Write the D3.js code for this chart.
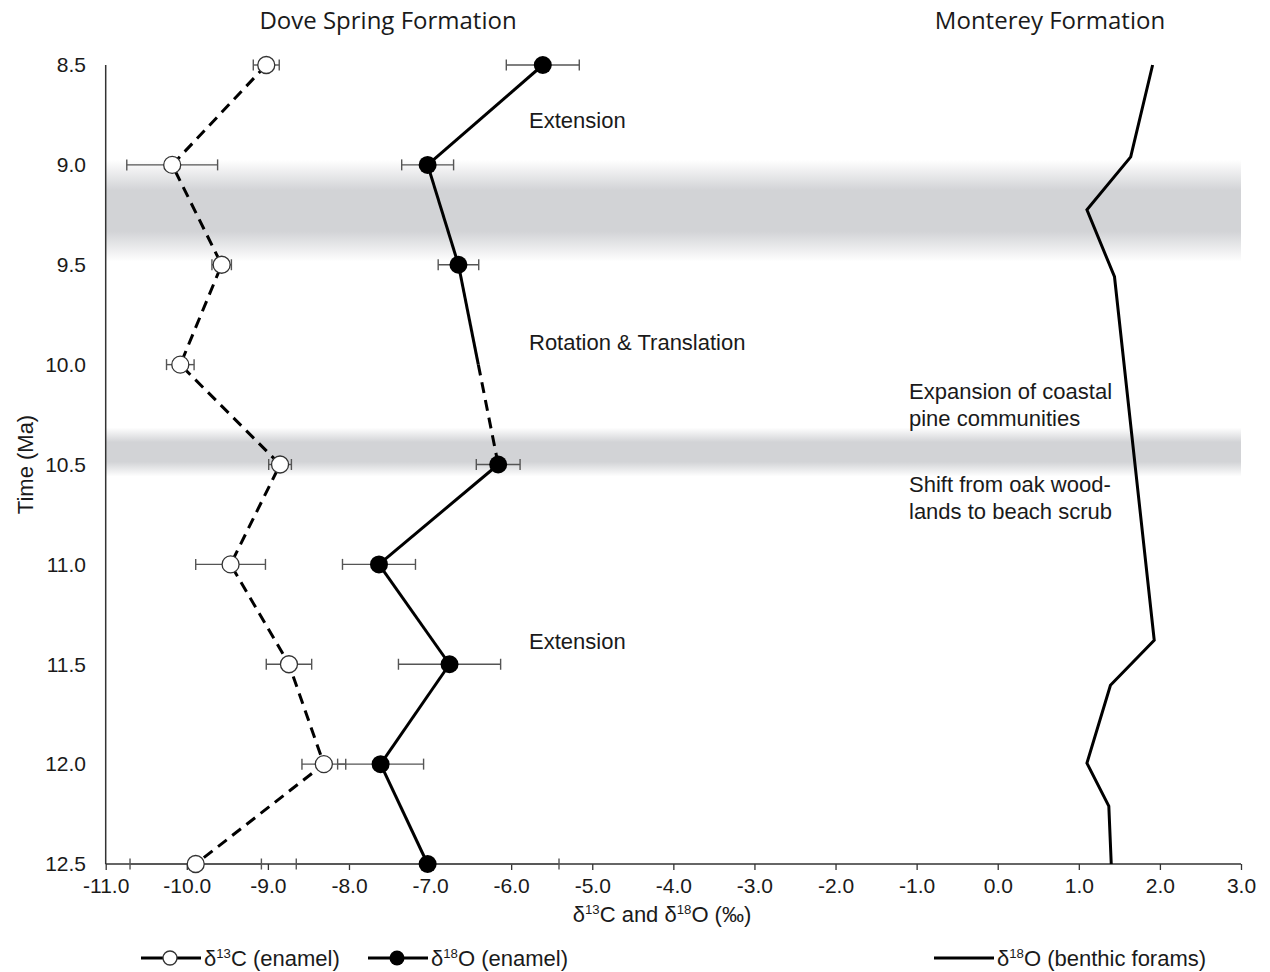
<!DOCTYPE html>
<html>
<head>
<meta charset="utf-8">
<script src="https://cdn.jsdelivr.net/npm/d3@7"></script>
<style>
  body { margin: 0; background: #ffffff; }
  svg { display: block; }
  text { font-family: "Liberation Sans", Arial, sans-serif; fill: #1a1a1a; }
  .title { font-family: "Open Sans", "Noto Sans", sans-serif; }
</style>
</head>
<body>
<svg id="chart" width="1270" height="972"></svg>
<script>
// Sample ages (Ma) for the Dove Spring enamel record
const ages = [8.5, 9.0, 9.5, 10.0, 10.5, 11.0, 11.5, 12.0, 12.5];
// δ13C of enamel (‰) and its error
const d13C = [-9.02, -10.18, -9.57, -10.08, -8.85, -9.46, -8.74, -8.31, -9.89];
const d13CErr = [0.16, 0.56, 0.12, 0.17, 0.14, 0.43, 0.28, 0.27, 0.81];
// δ18O of enamel (‰) and its error; no sample at 10.0 Ma
const d18O = [-5.61, -7.03, -6.65, null, -6.16, -7.63, -6.76, -7.61, -7.03];
const d18OErr = [0.45, 0.32, 0.25, null, 0.27, 0.45, 0.63, 0.53, 1.62];
// Monterey Formation benthic foraminifera δ18O
const benthicAges = [8.5, 8.96, 9.225, 9.56, 11.38, 11.605, 11.995, 12.21, 12.5];
const benthicD18O = [1.91, 1.64, 1.10, 1.44, 1.93, 1.39, 1.10, 1.37, 1.40];
// Axis ticks
const xTicks = [-11, -10, -9, -8, -7, -6, -5, -4, -3, -2, -1, 0, 1, 2, 3];
const yTicks = [8.5, 9.0, 9.5, 10.0, 10.5, 11.0, 11.5, 12.0, 12.5];
// Shaded intervals (Ma)
const bandStarts = [8.975, 10.315];
const bandEnds = [9.485, 10.56];
// Annotations
const tectonicLabels = ["Extension", "Rotation & Translation", "Extension"];
const tectonicAges = [8.775, 9.89, 11.385];
const vegetationLabels = [["Expansion of coastal", "pine communities"],
                          ["Shift from oak wood-", "lands to beach scrub"]];
const vegetationAges = [10.135, 10.6];

const svg = d3.select("#chart");
const x = d3.scaleLinear().domain([-11, 3]).range([105.7, 1241]);
const y = d3.scaleLinear().domain([8.5, 12.5]).range([65, 864]);
const fmt = (d) => (Math.abs(d) < 1e-9 ? 0 : d).toFixed(1);

// Soft grey bands
const defs = svg.append("defs");
const grad = defs.append("linearGradient").attr("id", "bandGrad")
  .attr("x1", 0).attr("x2", 0).attr("y1", 0).attr("y2", 1);
[[0, 0], [0.3, 1], [0.7, 1], [1, 0]].forEach(([o, a]) =>
  grad.append("stop").attr("offset", o).attr("stop-color", "#d2d3d6").attr("stop-opacity", a));

svg.append("g").selectAll("rect").data(bandStarts).join("rect")
  .attr("x", x(-11))
  .attr("width", x(3) - x(-11))
  .attr("y", (d) => y(d))
  .attr("height", (d, i) => y(bandEnds[i]) - y(d))
  .attr("fill", "url(#bandGrad)");

// Axes
const axisColor = "#333";
svg.append("line").attr("x1", x(-11)).attr("x2", x(-11)).attr("y1", y(8.5)).attr("y2", y(12.5))
  .attr("stroke", axisColor).attr("stroke-width", 1.5);
const xAxis = svg.append("g").attr("transform", `translate(0,${y(12.5)})`)
  .call(d3.axisBottom(x).tickValues(xTicks).tickFormat(fmt).tickSize(6).tickPadding(8));
xAxis.select(".domain").attr("stroke", axisColor).attr("stroke-width", 1.5).attr("d", `M${x(-11)},0H${x(3)}`);
xAxis.selectAll(".tick line").attr("stroke", axisColor).attr("stroke-width", 1.3);
xAxis.selectAll(".tick text").style("font-family", '"Liberation Sans", Arial, sans-serif')
  .style("font-size", "21px").attr("fill", "#1a1a1a");

svg.append("g").selectAll("text").data(yTicks).join("text")
  .attr("x", 86).attr("y", (d) => y(d)).attr("dy", "0.35em")
  .attr("text-anchor", "end").style("font-size", "21px")
  .text(fmt);

// Axis titles
svg.append("text").attr("transform", `translate(33,${y(10.5)}) rotate(-90)`)
  .attr("text-anchor", "middle").style("font-size", "22px").text("Time (Ma)");

function deltaLabel(sel, parts, size) {
  parts.forEach((p) => {
    if (p.sup) {
      sel.append("tspan").attr("dy", -size * 0.38).style("font-size", (size * 0.6) + "px").text(p.t);
    } else {
      const t = sel.append("tspan").text(p.t);
      if (p.after) t.attr("dy", size * 0.38);
    }
  });
}
const xTitle = svg.append("text").attr("x", 662).attr("y", 922).attr("text-anchor", "middle").style("font-size", "22px");
deltaLabel(xTitle, [{t: "δ"}, {t: "13", sup: true}, {t: "C and δ", after: true}, {t: "18", sup: true}, {t: "O (‰)", after: true}], 22);

// Panel titles
svg.append("text").attr("class", "title").attr("x", 388).attr("y", 29).attr("text-anchor", "middle")
  .style("font-size", "24px").text("Dove Spring Formation");
svg.append("text").attr("class", "title").attr("x", 1050).attr("y", 29).attr("text-anchor", "middle")
  .style("font-size", "24px").text("Monterey Formation");

// Benthic foram curve
svg.append("path").datum(benthicAges.map((a, i) => [benthicD18O[i], a]))
  .attr("fill", "none").attr("stroke", "#000").attr("stroke-width", 3).attr("stroke-linejoin", "miter")
  .attr("d", d3.line().x((d) => x(d[0])).y((d) => y(d[1])));

// δ13C enamel: dashed trend
const c13 = ages.map((a, i) => ({age: a, v: d13C[i], e: d13CErr[i]}));
svg.append("path").datum(c13).attr("fill", "none").attr("stroke", "#000").attr("stroke-width", 3)
  .attr("stroke-dasharray", "11,7")
  .attr("d", d3.line().x((d) => x(d.v)).y((d) => y(d.age)));

// δ18O enamel: solid trend, dashed across the interval without a sample
const o18 = ages.map((a, i) => ({age: a, v: d18O[i], e: d18OErr[i]})).filter((d) => d.v !== null);
for (let i = 0; i < o18.length - 1; i++) {
  const p = o18[i], q = o18[i + 1];
  const x0 = x(p.v), y0 = y(p.age), x1 = x(q.v), y1 = y(q.age);
  const skipped = ages.indexOf(q.age) - ages.indexOf(p.age) > 1;
  if (!skipped) {
    svg.append("line").attr("x1", x0).attr("y1", y0).attr("x2", x1).attr("y2", y1)
      .attr("stroke", "#000").attr("stroke-width", 3);
  } else {
    const xm = (x0 + x1) / 2, ym = (y0 + y1) / 2;
    svg.append("line").attr("x1", x0).attr("y1", y0).attr("x2", xm).attr("y2", ym)
      .attr("stroke", "#000").attr("stroke-width", 3);
    svg.append("line").attr("x1", xm).attr("y1", ym).attr("x2", x1).attr("y2", y1)
      .attr("stroke", "#000").attr("stroke-width", 3).attr("stroke-dasharray", "11,7");
  }
}

// Error bars
function errorBars(data) {
  const g = svg.append("g").attr("stroke", "#555").attr("stroke-width", 1.4);
  data.forEach((d) => {
    const cy = y(d.age), xl = x(d.v - d.e), xr = x(d.v + d.e);
    g.append("line").attr("x1", xl).attr("x2", xr).attr("y1", cy).attr("y2", cy);
    g.append("line").attr("x1", xl).attr("x2", xl).attr("y1", cy - 5.5).attr("y2", cy + 5.5);
    g.append("line").attr("x1", xr).attr("x2", xr).attr("y1", cy - 5.5).attr("y2", cy + 5.5);
  });
}
errorBars(c13);
errorBars(o18);

// Markers
svg.append("g").selectAll("circle").data(c13).join("circle")
  .attr("cx", (d) => x(d.v)).attr("cy", (d) => y(d.age)).attr("r", 8.5)
  .attr("fill", "#fff").attr("stroke", "#333").attr("stroke-width", 1.3);
svg.append("g").selectAll("circle").data(o18).join("circle")
  .attr("cx", (d) => x(d.v)).attr("cy", (d) => y(d.age)).attr("r", 9)
  .attr("fill", "#000");

// Annotations
svg.append("g").selectAll("text").data(tectonicLabels).join("text")
  .attr("x", 529).attr("y", (d, i) => y(tectonicAges[i])).attr("dy", "0.35em")
  .style("font-size", "22px").text((d) => d);
vegetationLabels.forEach((lines, i) => {
  lines.forEach((l, j) => {
    svg.append("text").attr("x", 909).attr("y", y(vegetationAges[i]) + j * 27).attr("dy", "0.35em")
      .style("font-size", "22px").text(l);
  });
});

// Legend
const ly = 958;
function legendItem(x0, marker, parts) {
  svg.append("line").attr("x1", x0).attr("x2", x0 + 60).attr("y1", ly).attr("y2", ly)
    .attr("stroke", "#000").attr("stroke-width", 3);
  if (marker === "open") {
    svg.append("circle").attr("cx", x0 + 29).attr("cy", ly).attr("r", 7)
      .attr("fill", "#fff").attr("stroke", "#333").attr("stroke-width", 1.3);
  } else if (marker === "filled") {
    svg.append("circle").attr("cx", x0 + 29).attr("cy", ly).attr("r", 7.5).attr("fill", "#000");
  }
  const t = svg.append("text").attr("x", x0 + 63).attr("y", ly + 8).style("font-size", "22px");
  deltaLabel(t, parts, 22);
}
legendItem(141, "open", [{t: "δ"}, {t: "13", sup: true}, {t: "C (enamel)", after: true}]);
legendItem(368, "filled", [{t: "δ"}, {t: "18", sup: true}, {t: "O (enamel)", after: true}]);
legendItem(934, "none", [{t: "δ"}, {t: "18", sup: true}, {t: "O (benthic forams)", after: true}]);
</script>
</body>
</html>
